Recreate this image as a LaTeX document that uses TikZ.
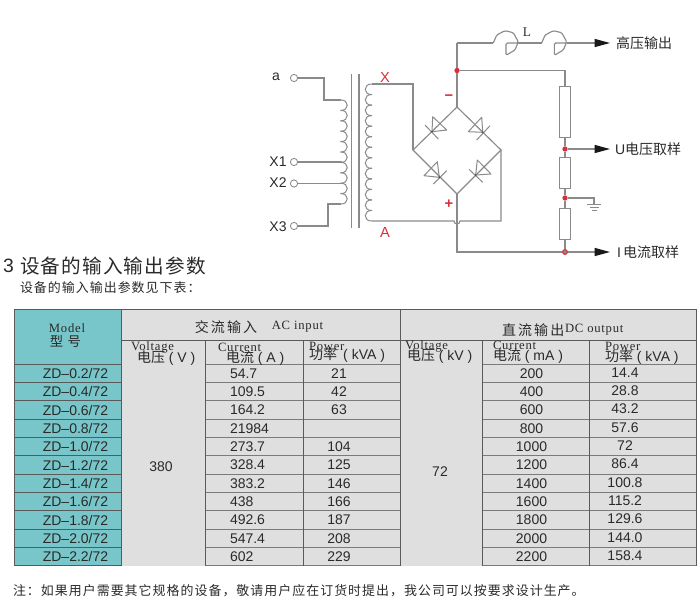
\documentclass[tikz,border=0pt]{standalone}
\usepackage{fontspec}
\usetikzlibrary{arrows.meta}
\setmainfont{Liberation Sans}
\newfontfamily\cjk{Noto Sans CJK SC}
\newfontfamily\cjks[LetterSpace=15]{Noto Sans CJK SC}
\newfontfamily\cjkm[LetterSpace=8]{Noto Sans CJK SC}
\newfontfamily\cjkt[LetterSpace=6]{Noto Sans CJK SC}
\newfontfamily\ser[LetterSpace=6]{Liberation Serif}
\newcommand{\fs}[1]{\fontsize{#1}{#1}\selectfont}
\definecolor{wire}{HTML}{8A8A8A}
\definecolor{redm}{HTML}{D8303A}
\definecolor{teal1}{HTML}{78C6C9}
\definecolor{grayf}{HTML}{DFDFDF}
\definecolor{tline}{HTML}{5A5A5A}
\definecolor{inkc}{HTML}{2A2A2A}
\tikzset{
  txt/.style={inner sep=0pt,outer sep=0pt,text=inkc,font=\fs{10.5pt}},
  wirel/.style={draw=wire,line width=0.85pt,line join=miter},
  thin wire/.style={draw=wire,line width=0.75pt},
  term/.style={circle,draw=wire,fill=white,line width=0.65pt,minimum size=5.4pt,inner sep=0pt},
  junc/.style={circle,fill=redm,minimum size=4pt,inner sep=0pt},
  redl/.style={txt,text=redm,font=\fs{11pt}},
  outarrow/.style={wirel,-{Triangle[length=11.5pt,width=6pt,color=black!90,fill=black!90]}},
  res/.style={draw=wire,fill=white,line width=0.7pt,minimum width=8.2pt,inner sep=0pt},
  rowl/.style={draw=tline!80,line width=0.75pt},
  bordl/.style={draw=tline,line width=0.75pt},
  sertxt/.style={txt,font=\fs{9.5pt}\ser},
  cntxt/.style={txt,font=\fs{10.5pt}\cjks}
}
\begin{document}
\begin{tikzpicture}[x=0.75pt,y=-0.75pt]
\useasboundingbox (0,0) rectangle (700,600);
% ---------- terminals and labels, input side
\node[term] (ta) at (294,78) {};
\node[term] (tx1) at (294,162) {};
\node[term] (tx2) at (294,183.5) {};
\node[term] (tx3) at (294,226) {};
\node[txt,font=\fs{10.5pt}] (la) at (276,77) {a};
\node[txt] (lx1) at (278,162) {X1};
\node[txt] (lx2) at (278,183) {X2};
\node[txt] (lx3) at (278,226.5) {X3};
\coordinate (p1top) at (340.5,100);
\coordinate (p1bot) at (340.5,204);
% primary winding
\foreach \k in {0,...,9} {
  \pgfmathsetmacro\ya{100+10.4*\k}
  \pgfmathsetmacro\yb{100+10.4*(\k+1)}
  \draw[thin wire] (340.5,\ya) .. controls (349.5,\ya-0.5) and (349.5,\yb+0.5) .. (340.5,\yb);
}
\draw[wirel] (ta) -| (324,100) -- (p1top);
\draw[wirel] (tx3) -| (328,204) -- (p1bot);
\coordinate (p1t) at (342,162);
\coordinate (p2t) at (342,183.5);
\draw[wirel] (tx1) -- (p1t);
\draw[wirel] (tx2) -- (p2t);
% core
\coordinate (c1a) at (351.5,74); \coordinate (c1b) at (351.5,228);
\coordinate (c2a) at (359,74); \coordinate (c2b) at (359,228);
\draw[wirel] (c1a) -- (c1b);
\draw[wirel] (c2a) -- (c2b);
% secondary winding
\foreach \k in {0,...,12} {
  \pgfmathsetmacro\ya{84+10.54*\k}
  \pgfmathsetmacro\yb{84+10.54*(\k+1)}
  \draw[thin wire] (372,\ya) .. controls (363,\ya-0.5) and (363,\yb+0.5) .. (372,\yb);
}
\node[redl] (lX) at (385,77) {X};
\node[redl] (lA) at (385,232) {A};
\node[redl,font=\fs{11pt}\bfseries] (lminus) at (449,98) {−};
\node[redl,font=\fs{11pt}\bfseries] (lplus) at (449,204) {+};
% bridge corners
\coordinate (bt) at (457,107);
\coordinate (bl) at (413,150);
\coordinate (bb) at (457,194);
\coordinate (br) at (501,150);
\coordinate (s1) at (372,84);
\coordinate (s2) at (372,221);
\draw[wirel] (bt) -- (bl) -- (bb) -- (br) -- cycle;
\draw[wirel] (s1) -| (bl);
\draw[wirel] (s2) -- (454,221) arc[start angle=180,end angle=0,radius=3] -- (501,221) -- (br);
% diodes: apex / two base corners / bar ends
\foreach \ax/\ay/\bx/\by/\cx/\cy/\dx/\dy/\ex/\ey in {
  432/131.7/432.7/116.7/446.7/130/425/125/438.3/139,
  482.7/132.3/481.7/117.3/468.3/131.7/476.7/140/490/125.7,
  439.3/177.3/437.3/161.7/424/175.7/433.3/184/446.7/170.7,
  475.7/175/477.3/160/491/174/469/169.3/482.7/182.3}{
  \draw[thin wire,line join=round] (\ax,\ay) -- (\bx,\by) -- (\cx,\cy) -- cycle;
  \draw[thin wire] (\dx,\dy) -- (\ex,\ey);
  \fill[black!70] (\ax,\ay) circle[radius=1];
}
% output network
\node[junc] (j1) at (457,70.5) {};
\coordinate (topw) at (457,43);
\coordinate (rtop) at (565,70.5);
\node[res,minimum height=38.2pt] (r1) at (565,111.5) {};
\node[res,minimum height=23.2pt] (r2) at (565,172.5) {};
\node[res,minimum height=23.2pt] (r3) at (565,223.5) {};
\node[junc] (j2) at (565,149) {};
\node[junc] (j3) at (565,198) {};
\node[circle,draw=redm,fill=wire,line width=0.8pt,minimum size=3.6pt,inner sep=0pt] (j4) at (565,252) {};
\draw[wirel] (bt) -- (j1) -- (topw);
\draw[wirel] (j1) -- (rtop) -- (r1.north);
\draw[wirel] (r1.south) -- (j2) -- (r2.north);
\draw[wirel] (r2.south) -- (j3) -- (r3.north);
\draw[wirel] (r3.south) -- (j4);
\coordinate (bdown) at (457,252);
\draw[wirel] (bb) -- (bdown) -- (j4);
% inductor
\coordinate (L1a) at (493.3,43);
\coordinate (L1b) at (518.3,43);
\coordinate (L2a) at (541.7,43);
\coordinate (L2b) at (566.7,43);
\draw[wirel] (topw) -- (L1a);
\draw[wirel] (L1b) -- (L2a);
\foreach \s in {0,48.4}{
  \draw[wirel,rounded corners=1pt,xshift=\s*0.75pt]
   (493.3,43) -- (496.7,35) -- (505,30.7) -- (513.3,32.7) -- (518.3,41.7) -- (515,50) -- (506,55.3) -- (506,43) -- (518.3,43);
}
\node[txt,font=\fs{10pt}\ser] (lL) at (527,32) {L};
% outputs
\node[txt,anchor=west,font=\fs{10.5pt}\cjk] (ohv) at (616,43) {高压输出};
\node[txt,anchor=west] (ou) at (615,149) {U{\cjk 电压取样}};
\node[txt,anchor=west] (oi) at (617,252) {I\,{\cjk 电流取样}};
\coordinate (tipa) at (610,43);
\coordinate (tipb) at (610,149);
\coordinate (tipc) at (610,252);
\draw[outarrow] (L2b) -- (tipa);
\draw[outarrow] (j2) -- (tipb);
\draw[outarrow] (j4) -- (tipc);
% ground
\coordinate (gt) at (594,198);
\coordinate (g1) at (594,204);
\draw[wirel] (j3) -- (gt) -- (g1);
\draw[thin wire] (587,204) -- (601,204);
\draw[thin wire] (589.5,207) -- (598.5,207);
\draw[thin wire] (591.5,210) -- (596.5,210);
% ---------- headings
\node[txt,anchor=west,font=\fs{14.5pt}] (h3) at (3,266) {3};
\node[txt,anchor=west,font=\fs{14.7pt}\cjkt] (ht) at (20,266) {设备的输入输出参数};
\node[txt,anchor=west,font=\fs{9.7pt}\cjkm] (hs) at (20,288) {设备的输入输出参数见下表：};
\node[txt,anchor=west,font=\fs{9.7pt}\cjkm] (note) at (13,591) {注：如果用户需要其它规格的设备，敬请用户应在订货时提出，我公司可以按要求设计生产。};
% ---------- table
\fill[teal1] (14,309) rectangle (121,566);
\fill[grayf] (121,309) rectangle (696,566);
\foreach \k in {0,...,11}{
  \pgfmathsetmacro\yy{364.3+18.33*\k}
  \draw[bordl] (14,\yy) -- (121,\yy);
  \draw[rowl] (205,\yy) -- (400,\yy);
  \draw[rowl] (482,\yy) -- (696,\yy);
}
\draw[bordl] (14,309) -- (696,309);
\draw[bordl] (121,340.5) -- (696,340.5);
\draw[bordl] (14,309) -- (14,566);
\draw[bordl] (121,309) -- (121,566);
\draw[bordl] (205,340.5) -- (205,566);
\draw[bordl] (303,340.5) -- (303,566);
\draw[bordl] (400,309) -- (400,566);
\draw[bordl] (482,340.5) -- (482,566);
\draw[bordl] (589,340.5) -- (589,566);
\draw[bordl] (696,309) -- (696,566);
\node[sertxt] (hmodel) at (67,328) {Model};
\node[txt,font=\fs{10pt}\cjk] (hxh) at (65.5,341) {型\,\,号};
\node[cntxt] (hac) at (226,327) {交流输入};
\node[sertxt] (hac2) at (297.5,327) {AC input};
\node[cntxt,anchor=west] (hdc) at (502,330) {直流输出};
\node[sertxt,anchor=west] (hdc2) at (565,330) {DC output};
\node[sertxt,anchor=west] (a1) at (131,347) {Voltage};
\node[sertxt,anchor=west] (a2) at (218,347) {Current};
\node[sertxt,anchor=west] (a3) at (309,346) {Power};
\node[sertxt,anchor=west] (a4) at (405,346) {Voltage};
\node[sertxt,anchor=west] (a5) at (493,345) {Current};
\node[sertxt,anchor=west] (a6) at (605,346) {Power};
\node[txt,anchor=west] (b1) at (137,358) {{\cjk 电压} ( V )};
\node[txt,anchor=west] (b2) at (226,358) {{\cjk 电流} ( A )};
\node[txt,anchor=west] (b3) at (309,355) {{\cjk 功率} \,( kVA )};
\node[txt,anchor=west] (b4) at (407,356) {{\cjk 电压} ( kV )};
\node[txt,anchor=west] (b5) at (493,356) {{\cjk 电流} ( mA )};
\node[txt,anchor=west] (b6) at (605,357) {{\cjk 功率} ( kVA )};
\node[txt] (v380) at (161,467) {380};
\node[txt] (v72) at (440,472) {72};
\foreach \m/\c/\p/\d/\e [count=\n] in {
 0.2/54.7/21/200/14.4,
 0.4/109.5/42/400/28.8,
 0.6/164.2/63/600/43.2,
 0.8/21984//800/57.6,
 1.0/273.7/104/1000/72,
 1.2/328.4/125/1200/86.4,
 1.4/383.2/146/1400/100.8,
 1.6/438/166/1600/115.2,
 1.8/492.6/187/1800/129.6,
 2.0/547.4/208/2000/144.0,
 2.2/602/229/2200/158.4}{
  \pgfmathsetmacro\yy{364.3+18.33*(\n-0.5)}
  \node[txt] (m\n) at (75.5,\yy) {ZD–\m/72};
  \node[txt,anchor=west] (c\n) at (230,\yy) {\c};
  \node[txt] (p\n) at (339,\yy) {\p};
  \node[txt] (d\n) at (531.5,\yy) {\d};
  \node[txt] (e\n) at (625,\yy-1) {\e};
}
\end{tikzpicture}
\end{document}
